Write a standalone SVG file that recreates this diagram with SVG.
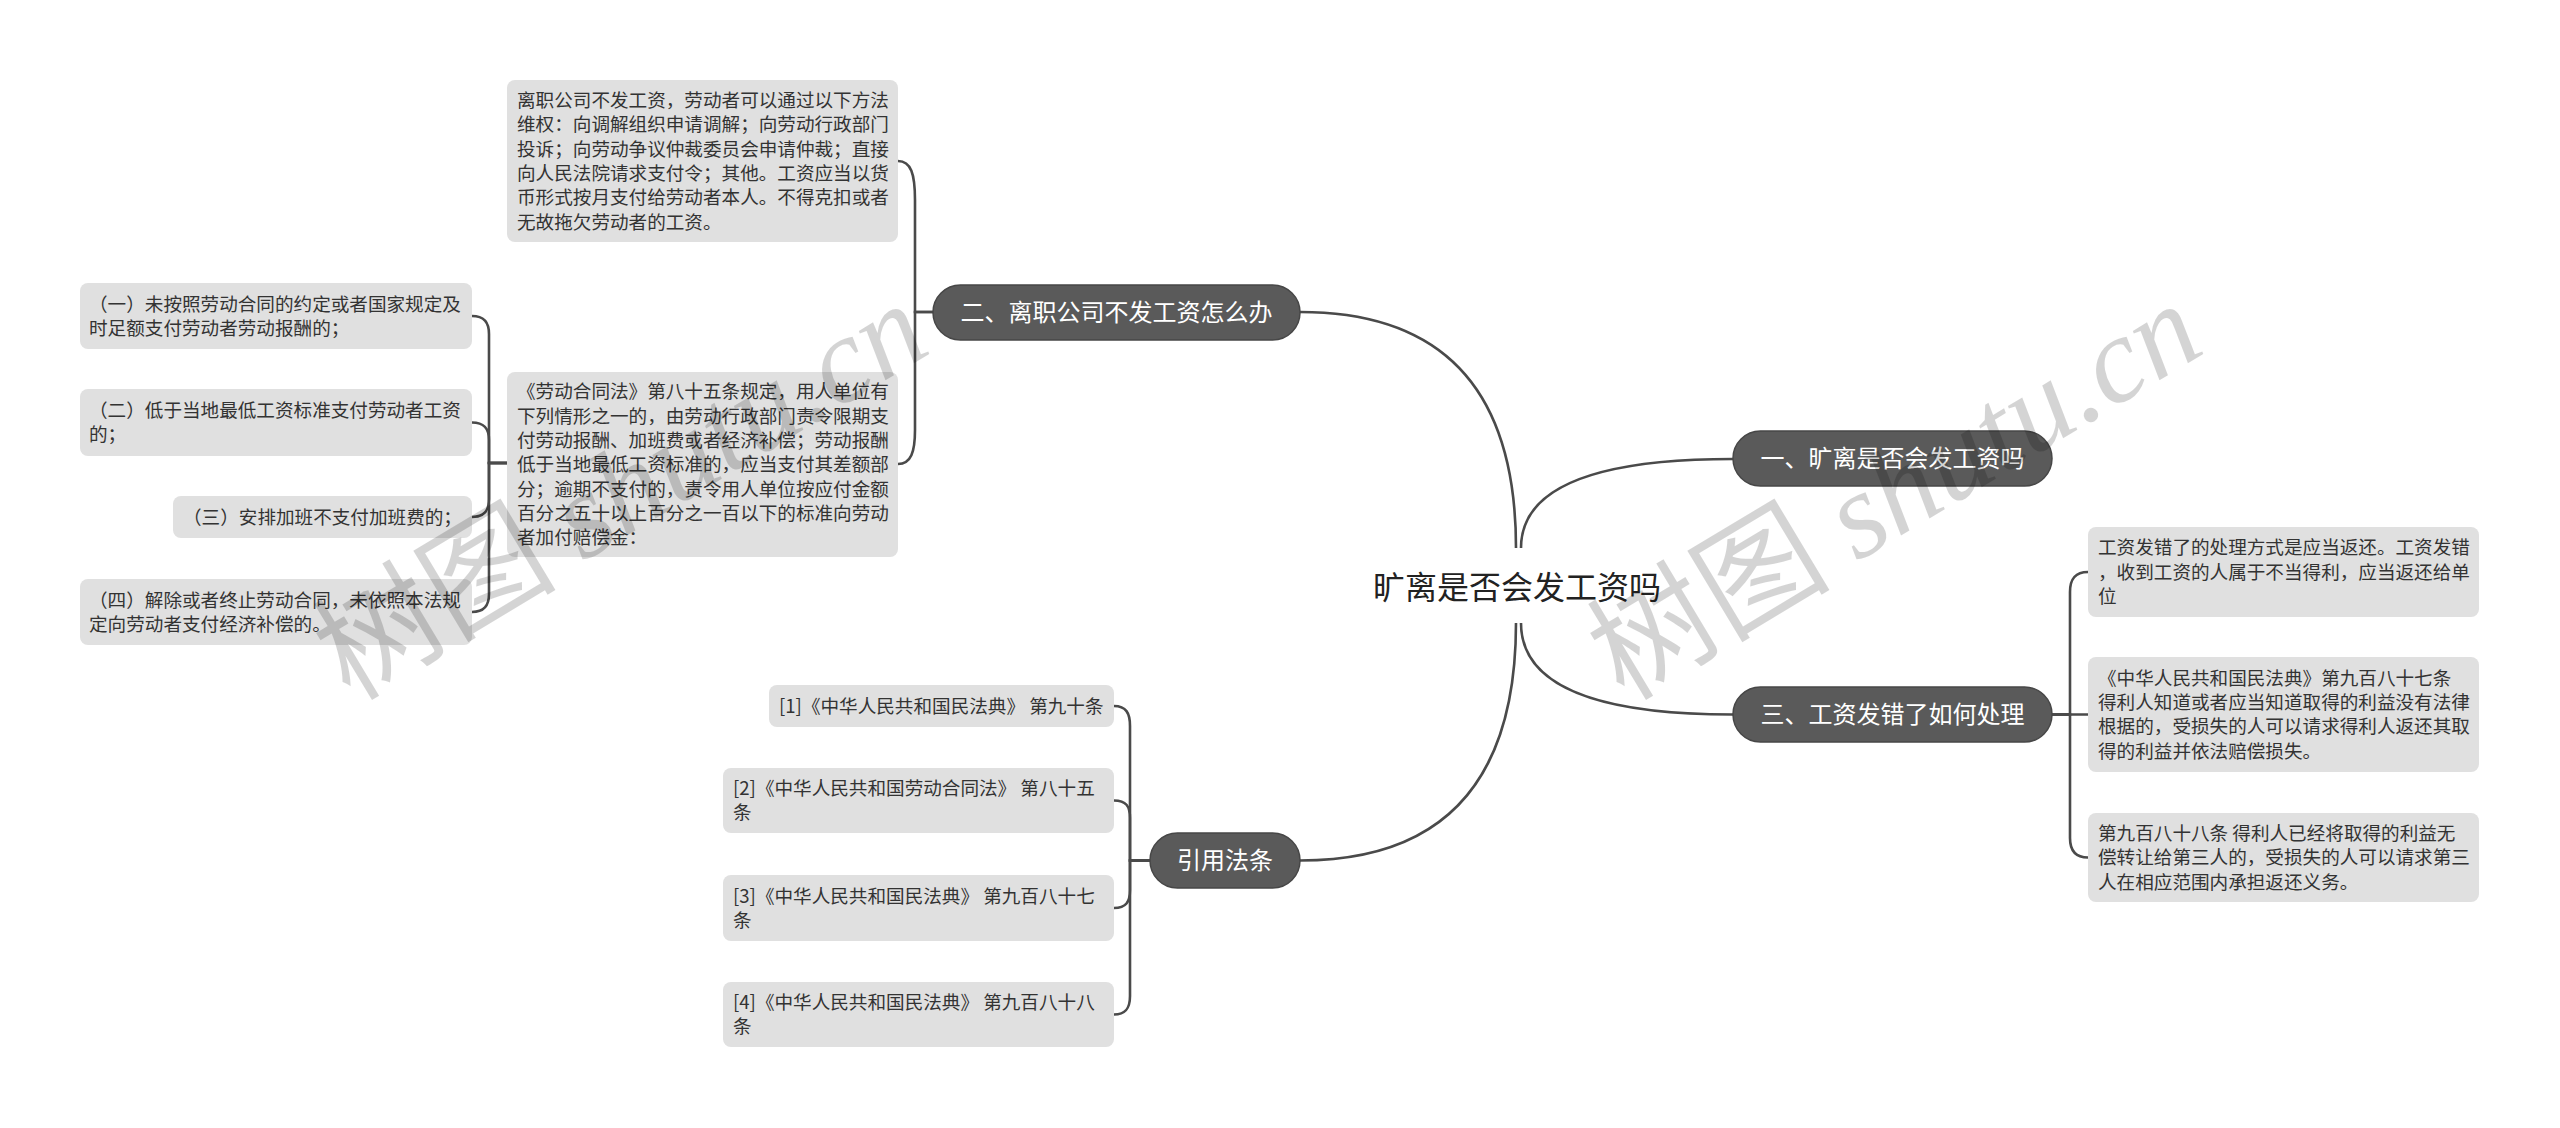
<svg xmlns="http://www.w3.org/2000/svg" width="2560" height="1128" viewBox="0 0 2560 1128">
<style>
text{font-family:"Noto Sans CJK SC","Microsoft YaHei",sans-serif}
.leaf rect{fill:#e0e0e0}
.leaf text{font-size:18.6px;fill:#333}
.branch rect{fill:#5a5a5a;stroke:#474747;stroke-width:1.5}
.branch text{font-size:24px;fill:#fff;text-anchor:middle}
.conn path{fill:none;stroke:#4a4a4a;stroke-width:2.6}
.wm{font-size:122px;fill:#000;fill-opacity:0.17}
.wm .lat{font-family:"Liberation Serif",serif;font-style:italic}
</style>
<rect width="2560" height="1128" fill="#fff"/>
<g id="connectors" class="conn">
<path d="M1516,548 Q1516,312 1300,312"/>
<path d="M1521,548 Q1521,459 1733,459"/>
<path d="M1521,623 Q1521,714.5 1733,714.5"/>
<path d="M1516,623 Q1516,860.5 1300,860.5"/>
<path d="M933,312 H915 V200 C915,174 911,161 898,161"/>
<path d="M933,312 H915 V430 C915,452 911,464 898,464"/>
<path d="M507,463 H489 V334 C489,322 484,316 472,316"/>
<path d="M507,463 H489 V440 C489,428 484,422.5 472,422.5"/>
<path d="M507,463 H489 V499 C489,511 484,517 472,517"/>
<path d="M507,463 H489 V594 C489,606 484,612 472,612"/>
<path d="M1150,860.5 H1130 V726 C1130,713 1126,706 1114,706"/>
<path d="M1150,860.5 H1130 V818 C1130,806 1126,800.5 1114,800.5"/>
<path d="M1150,860.5 H1130 V890 C1130,902 1126,908 1114,908"/>
<path d="M1150,860.5 H1130 V996 C1130,1008 1126,1014.5 1114,1014.5"/>
<path d="M2052,714.5 H2070 V592 C2070,579 2075,572 2088,572"/>
<path d="M2052,714.5 H2088"/>
<path d="M2052,714.5 H2070 V838 C2070,850 2075,857.5 2088,857.5"/>
</g>
<g id="root"><text x="1517" y="598.5" font-size="32" fill="#222" text-anchor="middle">旷离是否会发工资吗</text></g>
<g id="b1" class="branch"><rect x="1733" y="431" width="319" height="55" rx="27.5"/><text x="1892.5" y="467">一、旷离是否会发工资吗</text></g>
<g id="b2" class="branch"><rect x="933" y="285" width="367" height="55" rx="27.5"/><text x="1116.5" y="321">二、离职公司不发工资怎么办</text></g>
<g id="b3" class="branch"><rect x="1733" y="687" width="319" height="55" rx="27.5"/><text x="1892.5" y="723">三、工资发错了如何处理</text></g>
<g id="b4" class="branch"><rect x="1150" y="833" width="150" height="55" rx="27.5"/><text x="1225" y="869">引用法条</text></g>
<g id="n-a" class="leaf"><rect x="507" y="80" width="391" height="162" rx="8"/><text x="517" y="107"><tspan>离职公司不发工资，劳动者可以通过以下方法</tspan><tspan x="517" dy="24.3">维权：向调解组织申请调解；向劳动行政部门</tspan><tspan x="517" dy="24.3">投诉；向劳动争议仲裁委员会申请仲裁；直接</tspan><tspan x="517" dy="24.3">向人民法院请求支付令；其他。工资应当以货</tspan><tspan x="517" dy="24.3">币形式按月支付给劳动者本人。不得克扣或者</tspan><tspan x="517" dy="24.3">无故拖欠劳动者的工资。</tspan></text></g>
<g id="n-b" class="leaf"><rect x="507" y="372" width="391" height="185" rx="8"/><text x="517" y="398.3"><tspan>《劳动合同法》第八十五条规定，用人单位有</tspan><tspan x="517" dy="24.3">下列情形之一的，由劳动行政部门责令限期支</tspan><tspan x="517" dy="24.3">付劳动报酬、加班费或者经济补偿；劳动报酬</tspan><tspan x="517" dy="24.3">低于当地最低工资标准的，应当支付其差额部</tspan><tspan x="517" dy="24.3">分；逾期不支付的，责令用人单位按应付金额</tspan><tspan x="517" dy="24.3">百分之五十以上百分之一百以下的标准向劳动</tspan><tspan x="517" dy="24.3">者加付赔偿金：</tspan></text></g>
<g id="n-l1" class="leaf"><rect x="80" y="283" width="392" height="66" rx="8"/><text x="89" y="310.5"><tspan>（一）未按照劳动合同的约定或者国家规定及</tspan><tspan x="89" dy="24.3">时足额支付劳动者劳动报酬的；</tspan></text></g>
<g id="n-l2" class="leaf"><rect x="80" y="389" width="392" height="67" rx="8"/><text x="89" y="417"><tspan>（二）低于当地最低工资标准支付劳动者工资</tspan><tspan x="89" dy="24.3">的；</tspan></text></g>
<g id="n-l3" class="leaf"><rect x="173" y="496" width="299" height="42" rx="8"/><text x="183" y="523.7">（三）安排加班不支付加班费的；</text></g>
<g id="n-l4" class="leaf"><rect x="80" y="579" width="392" height="66" rx="8"/><text x="89" y="606.5"><tspan>（四）解除或者终止劳动合同，未依照本法规</tspan><tspan x="89" dy="24.3">定向劳动者支付经济补偿的。</tspan></text></g>
<g id="n-r1" class="leaf"><rect x="769" y="685" width="345" height="42" rx="8"/><text x="779" y="712.7">[1]《中华人民共和国民法典》 第九十条</text></g>
<g id="n-r2" class="leaf"><rect x="723" y="768" width="391" height="65" rx="8"/><text x="733" y="795"><tspan>[2]《中华人民共和国劳动合同法》 第八十五</tspan><tspan x="733" dy="24.3">条</tspan></text></g>
<g id="n-r3" class="leaf"><rect x="723" y="875" width="391" height="66" rx="8"/><text x="733" y="902.5"><tspan>[3]《中华人民共和国民法典》 第九百八十七</tspan><tspan x="733" dy="24.3">条</tspan></text></g>
<g id="n-r4" class="leaf"><rect x="723" y="982" width="391" height="65" rx="8"/><text x="733" y="1009"><tspan>[4]《中华人民共和国民法典》 第九百八十八</tspan><tspan x="733" dy="24.3">条</tspan></text></g>
<g id="n-q1" class="leaf"><rect x="2088" y="527" width="391" height="90" rx="8"/><text x="2098" y="554.4"><tspan>工资发错了的处理方式是应当返还。工资发错</tspan><tspan x="2098" dy="24.3">，收到工资的人属于不当得利，应当返还给单</tspan><tspan x="2098" dy="24.3">位</tspan></text></g>
<g id="n-q2" class="leaf"><rect x="2088" y="657" width="391" height="115" rx="8"/><text x="2098" y="684.7"><tspan>《中华人民共和国民法典》第九百八十七条</tspan><tspan x="2098" dy="24.3">得利人知道或者应当知道取得的利益没有法律</tspan><tspan x="2098" dy="24.3">根据的，受损失的人可以请求得利人返还其取</tspan><tspan x="2098" dy="24.3">得的利益并依法赔偿损失。</tspan></text></g>
<g id="n-q3" class="leaf"><rect x="2088" y="813" width="391" height="89" rx="8"/><text x="2098" y="839.9"><tspan>第九百八十八条 得利人已经将取得的利益无</tspan><tspan x="2098" dy="24.3">偿转让给第三人的，受损失的人可以请求第三</tspan><tspan x="2098" dy="24.3">人在相应范围内承担返还义务。</tspan></text></g>
<g id="watermarks">
<text class="wm" x="350" y="702" transform="rotate(-31 350 702)">树图 <tspan class="lat">shutu.cn</tspan></text>
<text class="wm" x="1624" y="702" transform="rotate(-31 1624 702)">树图 <tspan class="lat">shutu.cn</tspan></text>
</g>
</svg>
